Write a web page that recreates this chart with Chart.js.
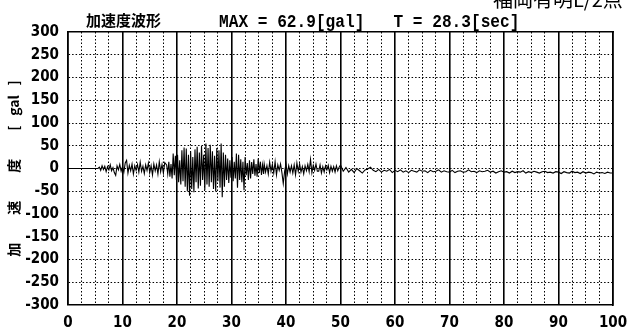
<!DOCTYPE html>
<html>
<head>
<meta charset="utf-8">
<script src="https://cdn.jsdelivr.net/npm/chart.js@4.4.1/dist/chart.umd.min.js"></script>
<style>
  html, body { margin: 0; padding: 0; background: #fff; }
  canvas { display: block; }
</style>
</head>
<body>
<canvas id="wave" width="637" height="335"></canvas>
<script>
// acceleration record, gal; time in seconds
const quietTime = [0, 5.5];
const quietAcc = [0, 0];

const weakStart = 5.75, weakStep = 0.25;
const weakAcc = [3, -4, 6, -2, 5, -7, 4, -3, 8, -5, 2, -9, -15, 6, -3, 9, -6, 4, -8, 12,
  18, -10, 7, -5, 10, -12, 6, -4, 9, -8, 14, -6, 5, -11, 8, -4, 12, -9, 6, -14,
  10, -5, 8, -12, 15, -7, 9, -10, 13];

const strongStart = 18.1, strongStep = 0.2;
const strongAcc = [8, -12, 15, -18, 10, -22, 33, -15, 28, -25, 30, -30, 18, -35, 40, -28, 46, -40, 44, -50,
  30, -60, 38, -45, 25, -52, 42, -30, 48, -44, 35, -38, 50, -25, 30, -48, 55, -35, 45, -40,
  52, -30, 38, -45, 28, -50, 45, -28, 40, -42, 55, -62.9, 35, -40, 30, -25, 22, -32, 18, -20,
  25, -28, 15, -22, 33, -42, 30, -25, 20, -30, 15, -48, 25, -15, 12, -25, 18, -22, 14, -12,
  20, -16, 10, -18, 22, -10, 15, -14, 8, -12];

const decayStart = 36, decayStep = 0.25;
const decayAcc = [10, -8, 6, -12, 14, -6, 9, -10, 15, -14, 8, -4, 10, -9, -33, -6, 10, -12, 6, -8,
  6, -10, 8, -14, 12, -6, 10, -8, 4, -12, 6, -5, 9, -7, 20, -9, 7, -4, 10, -6,
  -6, 8, -10, 4, -8, 6, -3, 7, -9, 5, -6, 4, -8, 6, -5, 3];

const tailStart = 50, tailStep = 0.5;
const tailAcc = [8, -6, 2, -8, -2, -9, 0, -5, -10, -3,
  -1, 3, -4, -7, -2, -8, -4, -6, -2, -9,
  -4, -7, -3, -8, -5, -9, -4, -6, -8, -3,
  -6, -5, -9, -4, -7, -6, -3, -8, -5, -7,
  -8, -4, -9, -6, -5, -8, -7, -3, -7, -6,
  -9, -5, -7, -6, -4, -8, -6, -10, -7, -5,
  -8, -7, -10, -6, -9, -7, -8, -5, -10, -7,
  -9, -6, -8, -10, -7, -6, -9, -8, -10, -7,
  -8, -11, -7, -9, -10, -6, -9, -8, -11, -7,
  -10, -8, -9, -12, -8, -10, -9, -11, -8, -10,
  -10];

const xTickLabels = [0, 10, 20, 30, 40, 50, 60, 70, 80, 90, 100];
const yTickLabels = [300, 250, 200, 150, 100, 50, 0, -50, -100, -150, -200, -250, -300];

const titleText = '加速度波形';
const maxText = 'MAX = 62.9[gal]   T = 28.3[sec]';
const siteText = '福岡有明L/2点';
const yTitle = '加　　速　　度　　[   gal   ]';

function toPoints(start, step, vals) {
  return vals.map((v, i) => ({ x: start + i * step, y: v }));
}
const points = [].concat(
  quietTime.map((t, i) => ({ x: t, y: quietAcc[i] })),
  toPoints(weakStart, weakStep, weakAcc),
  toPoints(strongStart, strongStep, strongAcc),
  toPoints(decayStart, decayStep, decayAcc),
  toPoints(tailStart, tailStep, tailAcc)
);

const numFont = { family: '"Liberation Sans Narrow", "DejaVu Sans Condensed", sans-serif', size: 15, weight: 'bold' };
const dotted = [1.5, 2];

const textPlugin = {
  id: 'headerText',
  afterDraw(chart) {
    const ctx = chart.ctx;
    ctx.save();
    ctx.fillStyle = '#000';
    ctx.textBaseline = 'alphabetic';
    ctx.font = 'bold 15px "Noto Sans CJK JP"';
    ctx.fillText(titleText, 86, 26);
    ctx.font = '20px "Noto Sans CJK JP"';
    ctx.fillText(siteText, 493, 7);
    ctx.translate(219, 27);
    ctx.scale(0.85, 1);
    ctx.font = 'bold 19px "Liberation Mono", "DejaVu Sans Mono", monospace';
    ctx.fillText(maxText, 0, 0);
    ctx.restore();
  }
};

new Chart(document.getElementById('wave'), {
  type: 'line',
  data: {
    datasets: [{
      data: points,
      borderColor: '#000',
      borderWidth: 1.1,
      pointRadius: 0,
      tension: 0,
      fill: false
    }]
  },
  options: {
    responsive: false,
    animation: false,
    layout: { padding: { top: 32, right: 24, left: 0, bottom: 0 } },
    plugins: { legend: { display: false }, tooltip: { enabled: false } },
    scales: {
      x: {
        type: 'linear', min: 0, max: 100,
        afterFit: s => { s.height = 30; },
        afterBuildTicks: s => { s.ticks = []; for (let v = 0; v <= 100; v += 2.5) s.ticks.push({ value: v }); },
        ticks: {
          autoSkip: false, maxRotation: 0, padding: 9, color: '#000', font: numFont,
          callback: v => xTickLabels.includes(v) ? String(v) : ''
        },
        grid: {
          color: '#000', drawTicks: false,
          lineWidth: c => (c.tick && c.tick.value % 10 === 0) ? 1.6 : 1
        },
        border: {
          display: true, color: '#000', width: 1.6,
          dash: c => (c.tick && c.tick.value % 10 === 0) ? [] : dotted
        }
      },
      y: {
        type: 'linear', min: -300, max: 300,
        afterFit: s => { s.width = 68; },
        afterBuildTicks: s => { s.ticks = yTickLabels.map(v => ({ value: v })); },
        ticks: { autoSkip: false, padding: 9, color: '#000', font: numFont },
        title: {
          display: true, text: yTitle, color: '#000',
          font: { family: '"Noto Sans CJK JP"', size: 14, weight: 'bold' },
          padding: { top: 5, bottom: 0 }
        },
        grid: {
          color: '#000', drawTicks: false,
          lineWidth: c => (c.tick && Math.abs(c.tick.value) === 300) ? 0 : 1
        },
        border: { display: true, color: '#000', width: 1.6, dash: dotted }
      },
      xTop: {
        type: 'linear', position: 'top', min: 0, max: 100,
        afterFit: s => { s.height = 0; },
        ticks: { display: false }, grid: { display: false },
        border: { display: true, color: '#000', width: 1.6 }
      },
      yRight: {
        type: 'linear', position: 'right', min: -300, max: 300,
        afterFit: s => { s.width = 0; },
        ticks: { display: false }, grid: { display: false },
        border: { display: true, color: '#000', width: 1.6 }
      }
    }
  },
  plugins: [textPlugin]
});
</script>
</body>
</html>
